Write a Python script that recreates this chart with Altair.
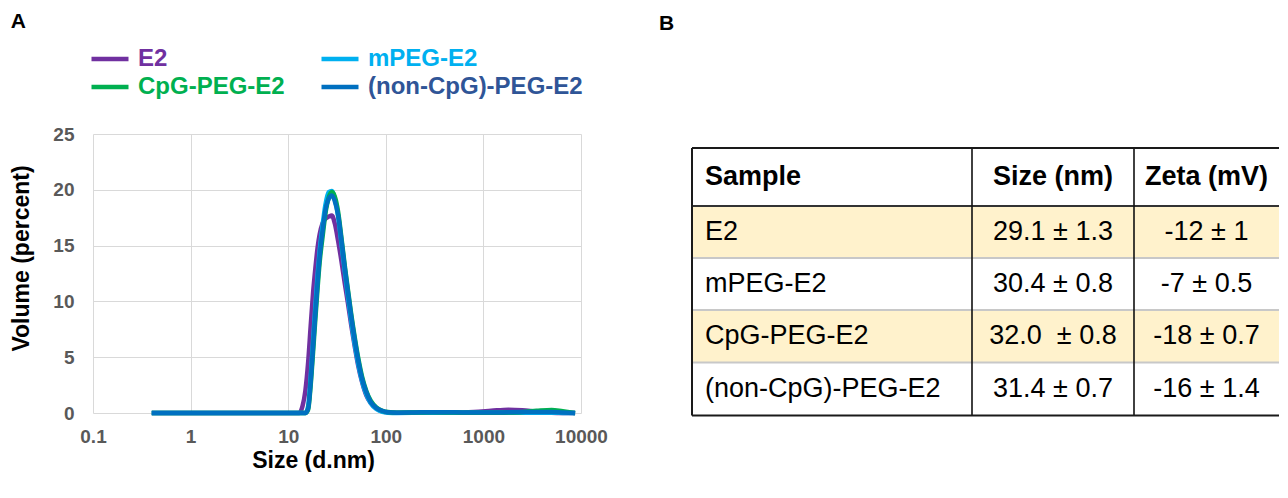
import altair as alt
import pandas as pd

# ---------------- data ----------------
sizes = [0.4, 1, 3, 10, 13, 14, 15, 16, 17, 18, 19, 20, 21, 22.5, 24, 26, 28, 30,
         32.5, 35, 38, 41, 44, 48, 52, 57, 63, 70, 80, 92, 105, 130, 200, 300,
         500, 800, 1200, 1800, 2500, 3500, 5000, 6500, 8700]

vol_e2 = [0, 0, 0, 0, 0, 0.6, 2.0, 4.5, 7.8, 10.8, 13.0, 14.8, 16.0, 17.0, 17.4, 17.6,
          17.7, 17.0, 15.4, 13.7, 11.6, 9.8, 8.0, 6.0, 4.3, 2.8, 1.6, 0.9, 0.4, 0.15,
          0.05, 0.02, 0.03, 0.05, 0.05, 0.1, 0.2, 0.3, 0.25, 0.12, 0.02, 0, 0]
vol_mpeg = [0, 0, 0, 0, 0, 0, 0, 0.6, 3.2, 6.5, 9.6, 12.3, 14.5, 16.8, 18.6, 19.8,
            19.9, 19.2, 17.6, 15.3, 12.7, 10.4, 8.4, 6.2, 4.5, 2.9, 1.7, 0.9, 0.35, 0.1,
            0.03, 0.01, 0.02, 0.03, 0.03, 0.02, 0.02, 0.02, 0.02, 0.02, 0.02, 0.01, 0]
vol_cpg = [0, 0, 0, 0, 0, 0, 0, 0.3, 2.5, 5.5, 8.5, 11.2, 13.5, 15.8, 17.8, 19.3,
           19.8, 19.4, 18.0, 15.8, 13.2, 11.0, 9.0, 6.8, 5.0, 3.3, 2.0, 1.1, 0.5, 0.2,
           0.08, 0.03, 0.04, 0.06, 0.04, 0.02, 0.02, 0.05, 0.1, 0.2, 0.28, 0.15, 0]
vol_noncpg = [0, 0, 0, 0, 0, 0, 0, 0.4, 2.8, 6.0, 9.0, 11.7, 14.0, 16.3, 18.1, 19.2,
              19.5, 19.0, 17.7, 15.6, 13.0, 10.8, 8.8, 6.6, 4.8, 3.1, 1.9, 1.0, 0.45, 0.18,
              0.07, 0.03, 0.05, 0.07, 0.06, 0.04, 0.04, 0.06, 0.08, 0.1, 0.1, 0.05, 0]

# drawing order (last on top)
series_names = ["E2", "mPEG-E2", "CpG-PEG-E2", "(non-CpG)-PEG-E2"]
series_values = [vol_e2, vol_mpeg, vol_cpg, vol_noncpg]
# legend order (2 columns, filled column by column)
legend_order = ["E2", "CpG-PEG-E2", "mPEG-E2", "(non-CpG)-PEG-E2"]

x_ticks = [0.1, 1, 10, 100, 1000, 10000]
y_ticks = [0, 5, 10, 15, 20, 25]

table_header = ["Sample", "Size (nm)", "Zeta (mV)"]
table_samples = ["E2", "mPEG-E2", "CpG-PEG-E2", "(non-CpG)-PEG-E2"]
table_size = ["29.1 ± 1.3", "30.4 ± 0.8", "32.0\u00a0 ± 0.8", "31.4 ± 0.7"]
table_zeta = ["-12 ± 1", "-7 ± 0.5", "-18 ± 0.7", "-16 ± 1.4"]

# ---------------- styles / layout ----------------
FONT = "Liberation Sans"
line_color = {"E2": "#7030A0", "mPEG-E2": "#00B0F0",
              "CpG-PEG-E2": "#00B050", "(non-CpG)-PEG-E2": "#0070C0"}
label_color = {"E2": "#7030A0", "mPEG-E2": "#00B0F0",
               "CpG-PEG-E2": "#00B050", "(non-CpG)-PEG-E2": "#2F5597"}
line_width = {"E2": 4.5, "mPEG-E2": 5, "CpG-PEG-E2": 4.5, "(non-CpG)-PEG-E2": 3}
COL_WIDTHS = [280, 162, 145]
ROW_HEIGHTS = [58, 52, 52, 52.5, 53]
TOP_GAP = 14
BEIGE = "#FFF2CC"

# ---------------- panel A ----------------
rows = []
for name, vals in zip(series_names, series_values):
    for s, v in zip(sizes, vals):
        rows.append({"series": name, "size": s, "volume": v})
df = pd.DataFrame(rows)

color_expr = ""
for name in legend_order[:-1]:
    color_expr += f"datum.label === '{name}' ? '{label_color[name]}' : "
color_expr += f"'{label_color[legend_order[-1]]}'"

left = alt.Chart(df).mark_line(interpolate="monotone").encode(
    x=alt.X("size:Q",
            scale=alt.Scale(type="log", domain=[0.1, 10000], nice=False),
            axis=alt.Axis(values=x_ticks, format="~g", title="Size (d.nm)",
                          labelFlush=False, labelPadding=14, titlePadding=3,
                          titleX=220)),
    y=alt.Y("volume:Q",
            scale=alt.Scale(domain=[0, 25], nice=False),
            axis=alt.Axis(values=y_ticks, title="Volume (percent)",
                          labelPadding=19, titlePadding=19, titleY=124)),
    color=alt.Color("series:N",
                    scale=alt.Scale(domain=legend_order,
                                    range=[line_color[n] for n in legend_order]),
                    legend=alt.Legend(orient="none", legendX=-4, legendY=-89,
                                      columns=2, title=None, padding=0,
                                      symbolType="stroke", symbolSize=1369,
                                      symbolStrokeWidth=5, labelOffset=7,
                                      labelFontSize=24, labelFontWeight="bold",
                                      labelFont=FONT, labelLimit=0,
                                      labelColor={"expr": color_expr},
                                      clipHeight=28,
                                      columnPadding=34, rowPadding=0)),
    strokeWidth=alt.StrokeWidth("series:N",
                                scale=alt.Scale(domain=legend_order,
                                                range=[line_width[n] for n in legend_order]),
                                legend=None),
).properties(
    width=488, height=279,
    title=alt.TitleParams("A", anchor="start", offset=93.5,
                          fontSize=21, fontWeight="bold", font=FONT, color="black"),
)

# ---------------- panel B (table) ----------------
col_edges = [0]
for w in COL_WIDTHS:
    col_edges.append(col_edges[-1] + w)
row_edges = [0]
for h in ROW_HEIGHTS:
    row_edges.append(row_edges[-1] + h)
TW, TH = col_edges[-1], row_edges[-1]

xs = alt.Scale(domain=[0, TW], nice=False, zero=False)
ys = alt.Scale(domain=[-TOP_GAP, TH], nice=False, zero=False, reverse=True)

bg_df = pd.DataFrame([
    {"x": 0, "x2": TW, "y": row_edges[i], "y2": row_edges[i + 1],
     "fill": BEIGE if i % 2 == 1 else "#FFFFFF"}
    for i in range(len(ROW_HEIGHTS))
])
bg = alt.Chart(bg_df).mark_rect(strokeWidth=0).encode(
    x=alt.X("x:Q", scale=xs, axis=None), x2="x2:Q",
    y=alt.Y("y:Q", scale=ys, axis=None), y2="y2:Q",
    fill=alt.Fill("fill:N", scale=None),
)


def hrules(ys_list, color, width):
    d = pd.DataFrame([{"x": 0, "x2": TW, "y": v} for v in ys_list])
    return alt.Chart(d).mark_rule(color=color, strokeWidth=width).encode(
        x=alt.X("x:Q", scale=xs, axis=None), x2="x2:Q",
        y=alt.Y("y:Q", scale=ys, axis=None),
    )


def vrules(xs_list, color, width):
    d = pd.DataFrame([{"x": v, "y": 0, "y2": TH} for v in xs_list])
    return alt.Chart(d).mark_rule(color=color, strokeWidth=width).encode(
        x=alt.X("x:Q", scale=xs, axis=None),
        y=alt.Y("y:Q", scale=ys, axis=None), y2="y2:Q",
    )


seps = hrules(row_edges[2:-1], "#c8c8c8", 2)
hdr_line = hrules([row_edges[1]], "#333333", 2)
outer_h = hrules([0, TH], "#1a1a1a", 2)
verts = vrules(col_edges[1:-1], "#111111", 1.6)
outer_v = vrules([0], "#1a1a1a", 2)

cells = []
for r in range(len(ROW_HEIGHTS)):
    if r == 0:
        texts = table_header
    else:
        texts = [table_samples[r - 1], table_size[r - 1], table_zeta[r - 1]]
    yc = (row_edges[r] + row_edges[r + 1]) / 2
    for c, t in enumerate(texts):
        cells.append({
            "text": t, "y": yc,
            "x": col_edges[0] if c == 0 else (col_edges[c] + col_edges[c + 1]) / 2,
            "col": c, "hdr": r == 0,
        })
cell_df = pd.DataFrame(cells)


def text_layer(data, align, weight, dx):
    return alt.Chart(data).mark_text(
        align=align, baseline="middle", fontSize=27,
        fontWeight=weight, font=FONT, color="black", dx=dx,
    ).encode(
        x=alt.X("x:Q", scale=xs, axis=None),
        y=alt.Y("y:Q", scale=ys, axis=None),
        text="text:N",
    )


t_hdr_left = text_layer(cell_df[(cell_df.hdr) & (cell_df.col == 0)], "left", "bold", 13)
t_hdr_center = text_layer(cell_df[(cell_df.hdr) & (cell_df.col > 0)], "center", "bold", 0)
t_left = text_layer(cell_df[(~cell_df.hdr) & (cell_df.col == 0)], "left", "normal", 13)
t_center = text_layer(cell_df[(~cell_df.hdr) & (cell_df.col > 0)], "center", "normal", 0)

right = alt.layer(bg, seps, hdr_line, verts, outer_h, outer_v,
                  t_hdr_left, t_hdr_center, t_left, t_center).properties(
    width=TW, height=TH + TOP_GAP,
    title=alt.TitleParams("B", anchor="start", dx=-32, offset=100,
                          fontSize=21, fontWeight="bold", font=FONT, color="black"),
)

chart = alt.hconcat(left, right, spacing=51).properties(
    padding={"left": 2, "top": 2, "right": 0, "bottom": 0}
).configure(
    font=FONT,
).configure_view(
    stroke=None,
).configure_axis(
    grid=True, gridColor="#d9d9d9", gridWidth=1, domain=False, ticks=False,
    labelFontSize=19, labelFontWeight="bold", labelColor="#595959", labelFont=FONT,
    titleFontSize=23, titleFontWeight="bold", titleColor="black", titleFont=FONT,
)

chart.save("out.html", embed_options={"renderer": "svg", "actions": False})
